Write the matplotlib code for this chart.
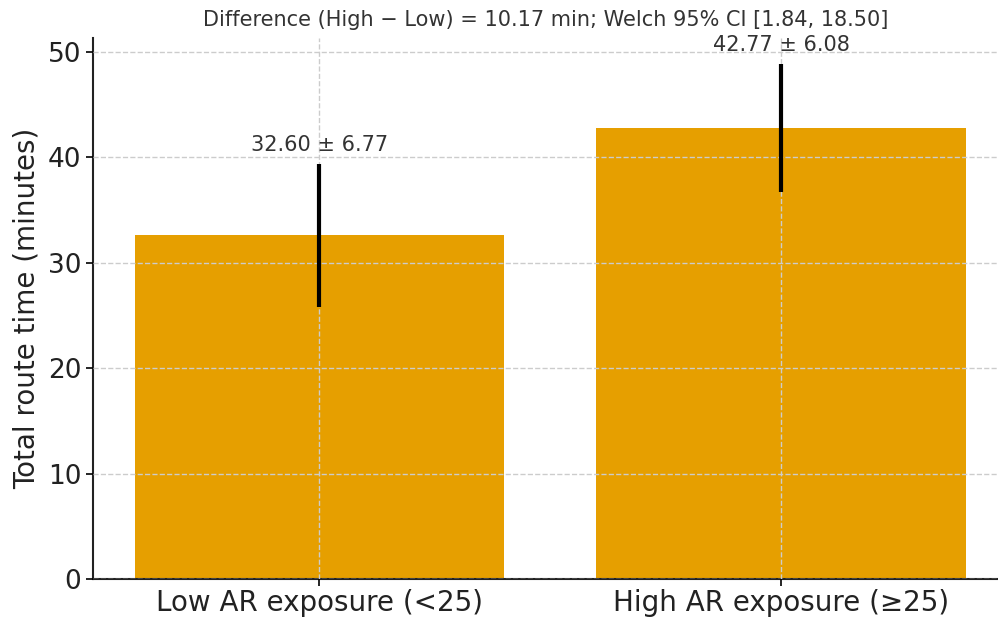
import matplotlib
matplotlib.use("Agg")
import matplotlib.pyplot as plt

groups = ["Low AR exposure (<25)", "High AR exposure (≥25)"]
means = [32.60, 42.77]
sds = [6.77, 6.08]
title = "Difference (High − Low) = 10.17 min; Welch 95% CI [1.84, 18.50]"

fig = plt.figure(figsize=(9.98, 6.17), dpi=100)
ax = fig.add_axes([93 / 998, 38 / 617, 905 / 998, 541 / 617])

x = range(len(groups))
ax.bar(x, means, width=0.8, color="#E69F00", zorder=1)
ax.errorbar(x, means, yerr=sds, fmt="none", ecolor="black",
            elinewidth=3, capsize=0, zorder=3)

for xi, m, s in zip(x, means, sds):
    ax.text(xi, m + s + 0.8, f"{m:.2f} ± {s:.2f}", ha="center", va="bottom",
            fontsize=15, color="#333333")

ax.set_xticks(list(x))
ax.set_xticklabels(groups, fontsize=20, color="#222222")
ax.tick_params(axis="x", pad=2)
ax.tick_params(axis="y", labelsize=19, labelcolor="#222222")
ax.tick_params(length=5, width=1.2)
ax.set_ylabel("Total route time (minutes)", fontsize=20, color="#222222", labelpad=5)
ax.set_title(title, fontsize=15, color="#333333", pad=9)
ax.set_xlim(-0.49, 1.47)
ax.set_ylim(0, 51.3)
ax.set_yticks([0, 10, 20, 30, 40, 50])
ax.grid(True, linestyle="--", color="#cccccc", linewidth=1, zorder=2)
ax.set_axisbelow(False)
for side in ["top", "right"]:
    ax.spines[side].set_visible(False)
for side in ["left", "bottom"]:
    ax.spines[side].set_linewidth(1.5)
    ax.spines[side].set_color("#222222")

fig.savefig("out.png", dpi=100)
